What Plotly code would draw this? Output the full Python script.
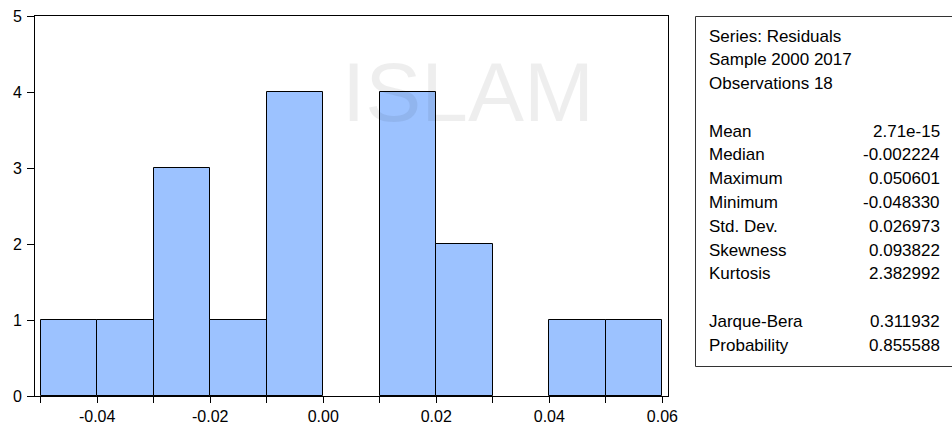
import plotly.graph_objects as go

# ---- data ----
bin_edges = [-0.05, -0.04, -0.03, -0.02, -0.01, 0.00, 0.01, 0.02, 0.03, 0.04, 0.05, 0.06]
counts = [1, 1, 3, 1, 4, 0, 4, 2, 0, 1, 1]

x_tick_vals = [-0.05, -0.04, -0.03, -0.02, -0.01, 0.00, 0.01, 0.02, 0.03, 0.04, 0.05, 0.06]
x_tick_text = ["", "-0.04", "", "-0.02", "", "0.00", "", "0.02", "", "0.04", "", "0.06"]
y_tick_vals = [0, 1, 2, 3, 4, 5]

header_lines = ["Series: Residuals", "Sample 2000 2017", "Observations 18"]
stat_names = ["Mean", "Median", "Maximum", "Minimum", "Std. Dev.", "Skewness", "Kurtosis",
              "", "Jarque-Bera", "Probability"]
stat_values = ["2.71e-15", "-0.002224", "0.050601", "-0.048330", "0.026973", "0.093822",
               "2.382992", "", "0.311932", "0.855588"]

watermark_text = "ISLAM"

# ---- layout geometry (pixels) ----
W, H = 952, 426
L, R, T, B = 35, 668, 16, 396
FONT = "Liberation Sans, Arial, sans-serif"


def px(xp):
    return (xp - L) / (R - L)


def py(yp):
    return (B - yp) / (B - T)


centers = [(a + b) / 2 for a, b in zip(bin_edges[:-1], bin_edges[1:])]
widths = [b - a for a, b in zip(bin_edges[:-1], bin_edges[1:])]
line_widths = [1 if c > 0 else 0 for c in counts]

fig = go.Figure()
fig.add_trace(go.Bar(
    x=centers, y=counts, width=widths,
    marker=dict(color="#9cc2ff", line=dict(color="#000000", width=line_widths)),
    hoverinfo="x+y",
))

shapes = [
    dict(type="rect", xref="paper", yref="paper",
         x0=px(695.5), x1=px(960), y0=py(366.5), y1=py(16.5),
         line=dict(color="#333333", width=1), fillcolor="rgba(0,0,0,0)", layer="above"),
]

annotations = [
    dict(text=watermark_text, xref="paper", yref="paper", x=px(468), y=py(92),
         xanchor="center", yanchor="middle", showarrow=False,
         font=dict(family=FONT, size=84, color="rgba(0,0,0,0.065)")),
]
line_h = 23.8
y0_header = 36
for i, t in enumerate(header_lines):
    annotations.append(dict(text=t, xref="paper", yref="paper", x=px(707), y=py(y0_header + i * line_h),
                            xanchor="left", yanchor="middle", showarrow=False,
                            font=dict(family=FONT, size=17, color="#000000")))
y0_stats = 131
for i, (n, v) in enumerate(zip(stat_names, stat_values)):
    yy = py(y0_stats + i * line_h)
    if n:
        annotations.append(dict(text=n, xref="paper", yref="paper", x=px(707), y=yy,
                                xanchor="left", yanchor="middle", showarrow=False,
                                font=dict(family=FONT, size=17, color="#000000")))
    if v:
        annotations.append(dict(text=v, xref="paper", yref="paper", x=px(942), y=yy,
                                xanchor="right", yanchor="middle", showarrow=False,
                                font=dict(family=FONT, size=17, color="#000000")))

fig.update_layout(
    width=W, height=H,
    margin=dict(l=L, r=W - R, t=T, b=H - B, pad=0, autoexpand=False),
    paper_bgcolor="#ffffff", plot_bgcolor="#ffffff",
    bargap=0, showlegend=False,
    font=dict(family=FONT, size=16, color="#000000"),
    shapes=shapes, annotations=annotations,
    xaxis=dict(range=[-0.0510, 0.0610], tickmode="array", tickvals=x_tick_vals, ticktext=x_tick_text,
               ticks="outside", ticklen=6, tickwidth=1, tickcolor="#000000", automargin=False,
               showline=True, linecolor="#000000", linewidth=1, mirror=True,
               showgrid=False, zeroline=False, tickfont=dict(size=16, family=FONT)),
    yaxis=dict(range=[0, 5], tickmode="array", tickvals=y_tick_vals, automargin=False,
               ticks="outside", ticklen=7, tickwidth=1, tickcolor="#000000",
               showline=True, linecolor="#000000", linewidth=1, mirror=True,
               showgrid=False, zeroline=False, tickfont=dict(size=16, family=FONT),
               ticklabelstandoff=2),
)

fig.write_html("out.html")
